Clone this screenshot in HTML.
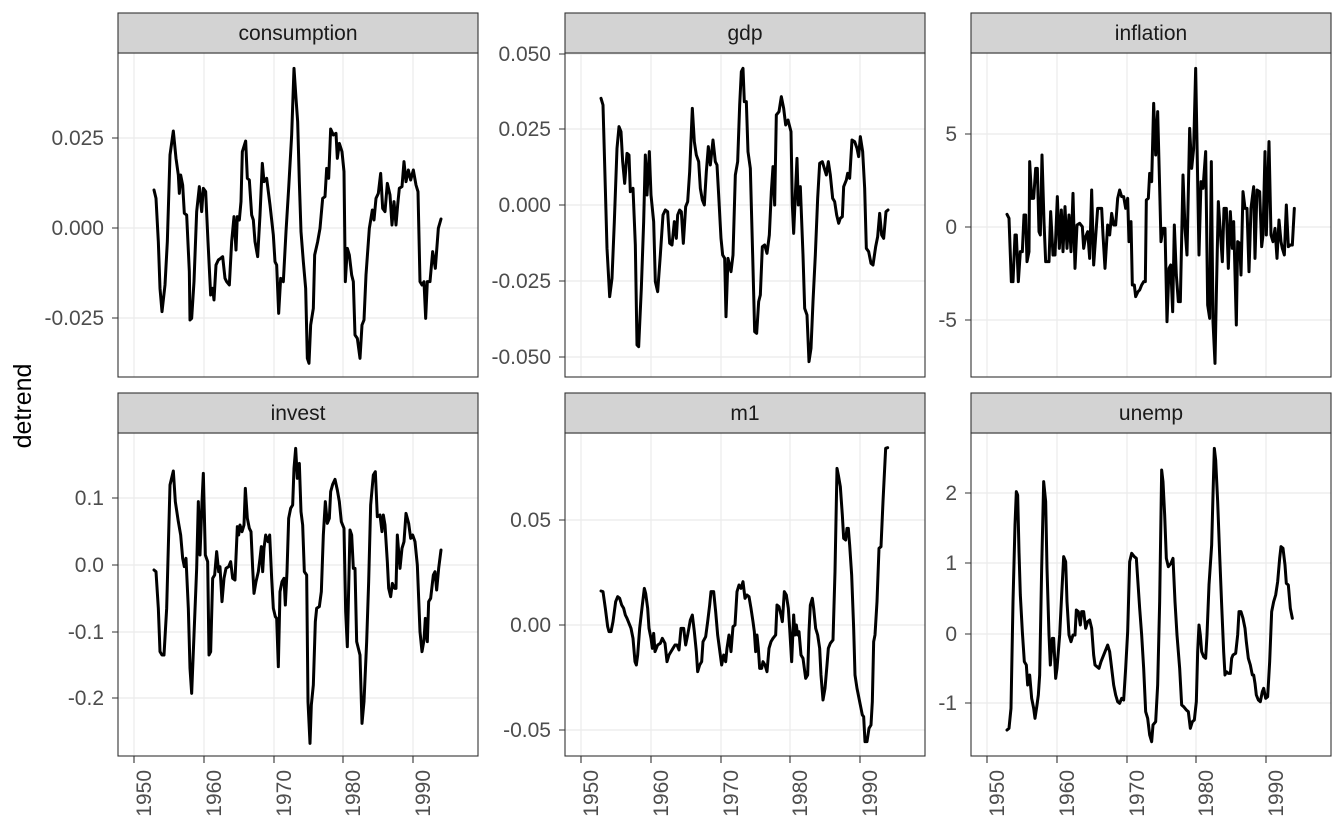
<!DOCTYPE html>
<html><head><meta charset="utf-8"><style>
html,body{margin:0;padding:0;background:#fff;}
svg{display:block;font-family:"Liberation Sans",sans-serif;}
.g{stroke:#ebebeb;stroke-width:1.2;fill:none}
.fr{fill:none;stroke:#333;stroke-width:1.1}
.st{fill:#d3d3d3;stroke:#333;stroke-width:1.1}
.sl{font-size:21px;fill:#1a1a1a;text-anchor:middle}
.yl{font-size:21px;fill:#4d4d4d;text-anchor:end}
.xl{font-size:21px;fill:#4d4d4d;text-anchor:end}
.tk{stroke:#333;stroke-width:1.1}
.ln{fill:none;stroke:#000;stroke-width:9;stroke-linejoin:round;stroke-linecap:round}
</style></head><body>
<svg width="1344" height="830" viewBox="0 0 1344 830" xmlns="http://www.w3.org/2000/svg">
<rect width="1344" height="830" fill="#fff"/>
<text x="0" y="0" transform="translate(31,406) rotate(-90)" style="font-size:25px;fill:#000;text-anchor:middle">detrend</text>

<!-- ===== consumption ===== -->
<g>
<path class="g" d="M134,53V377M204,53V377M274,53V377M343,53V377M413,53V377M118,138H478M118,228H478M118,318H478"/>
<rect class="fr" x="118" y="53" width="360" height="324"/>
<rect class="st" x="118" y="13" width="360" height="40"/>
<text class="sl" x="298" y="40">consumption</text>
<path class="tk" d="M112,138H118M112,228H118M112,318H118"/>
<text class="yl" x="104" y="145">0.025</text><text class="yl" x="104" y="235">0.000</text><text class="yl" x="104" y="325">-0.025</text>
<g transform="translate(140,55) scale(0.33333)"><polyline class="ln" points="42,405 48,430 55,560 60,700 66,770 75,690 82,560 90,300 100,228 108,310 115,360 118,415 122,360 128,390 133,475 140,480 148,650 150,795 155,790 162,680 170,470 178,395 185,470 190,400 197,410 204,560 212,720 218,700 222,735 228,630 235,615 242,610 248,605 255,670 260,680 268,690 275,560 282,485 288,585 292,485 298,495 303,440 307,290 317,258 322,370 328,375 335,480 340,495 345,560 353,605 360,480 367,325 372,380 380,370 390,450 400,540 405,620 410,630 416,775 422,670 430,680 438,530 446,400 455,240 462,40 468,130 473,200 478,380 483,530 490,620 497,700 502,910 507,925 512,810 520,760 524,600 533,560 540,520 548,430 555,425 560,340 566,370 572,222 580,240 588,235 592,310 598,265 606,290 612,350 616,680 622,580 628,600 635,660 640,680 645,840 652,850 660,910 666,810 672,795 678,660 688,520 697,465 702,495 708,430 715,415 722,355 728,460 735,470 742,385 750,420 756,510 762,440 768,510 773,450 778,400 786,395 792,320 798,380 805,345 812,375 820,345 828,390 834,410 840,680 846,690 852,680 857,790 862,680 870,680 878,590 886,640 895,520 903,492"/></g>
</g>

<!-- ===== gdp ===== -->
<g>
<path class="g" d="M581,53V377M651,53V377M721,53V377M790,53V377M860,53V377M565,54H925M565,129H925M565,205H925M565,281H925M565,357H925"/>
<rect class="fr" x="565" y="53" width="360" height="324"/>
<rect class="st" x="565" y="13" width="360" height="40"/>
<text class="sl" x="745" y="40">gdp</text>
<path class="tk" d="M559,54H565M559,129H565M559,205H565M559,281H565M559,357H565"/>
<text class="yl" x="551" y="61">0.050</text><text class="yl" x="551" y="136">0.025</text><text class="yl" x="551" y="212">0.000</text><text class="yl" x="551" y="288">-0.025</text><text class="yl" x="551" y="364">-0.050</text>
<g transform="translate(587,55) scale(0.33333)"><polyline class="ln" points="42,130 48,150 55,400 60,580 68,725 75,670 82,500 90,280 96,215 102,230 107,320 113,385 120,295 126,300 130,410 138,400 145,570 150,870 155,875 163,700 170,500 175,300 180,420 187,290 192,420 200,500 205,680 212,710 220,600 228,480 235,465 242,470 248,565 255,570 262,500 268,550 272,480 278,465 283,470 289,565 296,455 302,440 308,350 316,160 322,260 328,300 335,320 340,400 346,435 352,450 358,350 364,275 370,330 378,255 385,320 390,330 395,420 402,550 407,600 413,610 417,785 423,610 432,650 438,600 445,360 452,320 458,150 463,50 468,40 472,140 478,140 483,290 490,340 497,600 503,830 509,835 515,740 520,720 526,575 533,570 540,595 547,540 553,410 558,335 563,450 568,180 576,170 583,125 590,160 596,210 603,195 612,230 616,450 620,535 625,420 630,310 634,450 640,395 648,600 653,760 660,780 666,920 672,880 678,740 685,600 692,430 698,325 706,320 712,340 718,360 724,320 730,360 737,430 743,440 749,480 755,505 760,490 766,485 770,395 778,375 782,355 788,370 795,255 803,260 810,280 815,305 820,245 827,290 833,400 838,580 845,590 852,625 858,630 866,575 872,545 878,475 884,540 890,550 897,470 903,465"/></g>
</g>

<!-- ===== inflation ===== -->
<g>
<path class="g" d="M987,53V377M1057,53V377M1127,53V377M1196,53V377M1266,53V377M971,134H1331M971,227H1331M971,320H1331"/>
<rect class="fr" x="971" y="53" width="360" height="324"/>
<rect class="st" x="971" y="13" width="360" height="40"/>
<text class="sl" x="1151" y="40">inflation</text>
<path class="tk" d="M965,134H971M965,227H971M965,320H971"/>
<text class="yl" x="957" y="141">5</text><text class="yl" x="957" y="234">0</text><text class="yl" x="957" y="327">-5</text>
<g transform="translate(993,55) scale(0.33333)"><polyline class="ln" points="42,478 48,490 55,680 60,680 66,540 70,540 76,680 82,590 88,590 93,480 98,480 102,620 108,590 110,320 116,430 122,430 128,340 133,340 138,530 142,540 147,300 153,500 158,620 163,620 168,620 173,470 180,600 186,600 193,425 199,580 205,465 210,590 216,455 222,580 228,480 234,590 240,415 246,640 252,510 260,505 268,515 272,580 278,545 284,530 290,610 296,405 302,630 308,545 314,460 320,460 326,460 330,540 336,640 344,510 350,540 356,475 362,510 368,510 374,430 380,405 386,425 392,425 398,460 404,430 408,560 414,500 418,690 424,690 428,725 435,710 440,705 446,690 452,680 457,680 460,435 466,430 470,355 476,380 482,145 488,300 494,170 499,360 504,560 510,520 516,520 522,800 528,640 533,630 539,770 544,510 550,660 556,740 562,740 570,360 576,520 582,600 590,220 596,340 602,280 608,40 613,320 618,600 624,380 630,400 638,290 644,750 650,790 655,320 660,800 666,925 670,720 676,440 682,530 688,620 693,460 700,460 706,640 712,470 718,580 722,500 730,810 734,560 740,565 744,660 750,410 756,460 762,460 768,650 774,460 782,395 786,610 792,405 800,410 806,575 810,540 816,290 820,540 828,260 834,540 840,560 846,520 852,610 858,495 864,560 868,580 874,600 880,450 886,575 892,570 898,570 904,460"/></g>
</g>

<!-- ===== invest ===== -->
<g>
<path class="g" d="M134,433V756M204,433V756M274,433V756M343,433V756M413,433V756M118,498H478M118,565H478M118,632H478M118,698H478"/>
<rect class="fr" x="118" y="433" width="360" height="323"/>
<rect class="st" x="118" y="393" width="360" height="40"/>
<text class="sl" x="298" y="420">invest</text>
<path class="tk" d="M112,498H118M112,565H118M112,632H118M112,698H118"/>
<text class="yl" x="104" y="505">0.1</text><text class="yl" x="104" y="572">0.0</text><text class="yl" x="104" y="639">-0.1</text><text class="yl" x="104" y="705">-0.2</text>
<g transform="translate(140,435) scale(0.33333)"><polyline class="ln" points="42,405 48,410 55,520 60,650 66,660 72,660 80,520 90,150 100,108 106,200 115,260 122,300 128,370 133,395 138,370 145,520 150,700 155,775 162,600 170,400 175,200 180,360 186,200 190,115 196,360 203,380 207,660 212,650 218,430 224,420 230,350 236,410 240,395 246,500 252,430 258,400 266,395 272,380 278,430 285,435 292,275 296,300 300,270 306,290 312,270 316,160 322,250 328,280 333,290 338,400 342,475 348,440 355,410 360,370 364,335 368,410 372,340 377,300 384,320 389,300 395,430 400,520 406,545 410,550 415,695 420,470 426,440 432,430 436,510 441,410 446,250 452,220 458,210 462,100 467,40 472,130 478,85 483,230 488,270 493,410 500,420 504,800 510,925 514,810 520,750 526,560 530,520 538,515 544,470 550,300 556,200 562,265 568,250 572,170 578,148 585,133 592,165 598,200 604,260 612,280 617,530 622,635 626,460 630,285 635,300 640,400 645,400 650,620 660,660 666,865 672,800 680,620 686,440 692,210 700,120 706,110 712,245 720,240 726,290 730,240 735,270 742,380 746,460 752,485 757,445 764,460 768,460 772,300 780,400 786,340 792,320 798,235 806,265 812,310 818,300 825,320 832,390 840,590 846,650 852,615 856,550 862,620 866,500 872,490 880,420 885,410 890,465 896,400 903,345"/></g>
<path class="tk" d="M134,756V763M204,756V763M274,756V763M343,756V763M413,756V763"/>
<text class="xl" transform="translate(151,770) rotate(-90)">1950</text><text class="xl" transform="translate(221,770) rotate(-90)">1960</text><text class="xl" transform="translate(291,770) rotate(-90)">1970</text><text class="xl" transform="translate(360,770) rotate(-90)">1980</text><text class="xl" transform="translate(430,770) rotate(-90)">1990</text>
</g>

<!-- ===== m1 ===== -->
<g>
<path class="g" d="M581,433V756M651,433V756M721,433V756M790,433V756M860,433V756M565,520H925M565,625H925M565,730H925"/>
<rect class="fr" x="565" y="433" width="360" height="323"/>
<rect class="st" x="565" y="393" width="360" height="40"/>
<text class="sl" x="745" y="420">m1</text>
<path class="tk" d="M559,520H565M559,625H565M559,730H565"/>
<text class="yl" x="551" y="527">0.05</text><text class="yl" x="551" y="632">0.00</text><text class="yl" x="551" y="737">-0.05</text>
<g transform="translate(587,435) scale(0.33333)"><polyline class="ln" points="42,468 48,470 55,520 62,575 66,590 72,590 78,560 86,500 92,485 98,490 104,510 110,520 115,540 120,550 126,565 132,580 138,610 144,680 148,690 152,660 158,580 166,510 172,460 176,475 182,520 186,580 192,610 196,640 200,595 204,650 208,640 212,630 220,625 226,610 234,625 240,680 246,660 252,650 258,640 264,630 270,630 276,645 282,580 290,580 296,630 302,600 310,555 316,540 322,590 328,650 332,710 338,690 344,680 348,620 356,605 362,560 368,510 372,470 380,470 386,530 392,600 400,660 404,690 410,660 416,680 420,640 426,600 432,650 438,575 444,570 450,470 456,450 462,460 468,440 474,490 480,480 486,485 492,520 498,560 502,590 506,650 510,600 514,640 518,700 524,700 528,680 534,690 540,710 546,640 552,620 558,610 566,600 570,510 576,515 582,540 586,560 592,470 598,480 604,520 608,580 614,680 620,540 624,600 628,570 632,600 636,590 642,660 648,670 656,730 662,720 666,590 670,510 676,490 680,520 686,580 692,600 698,640 702,720 708,795 714,760 720,690 724,640 730,625 738,615 744,410 750,100 754,120 760,155 766,240 770,310 776,315 780,280 784,280 788,330 794,420 800,580 804,720 810,760 816,790 820,810 826,840 830,845 834,920 840,920 846,880 852,870 856,800 860,620 864,600 870,500 876,340 882,335 888,200 896,40 902,38"/></g>
<path class="tk" d="M581,756V763M651,756V763M721,756V763M790,756V763M860,756V763"/>
<text class="xl" transform="translate(598,770) rotate(-90)">1950</text><text class="xl" transform="translate(668,770) rotate(-90)">1960</text><text class="xl" transform="translate(738,770) rotate(-90)">1970</text><text class="xl" transform="translate(807,770) rotate(-90)">1980</text><text class="xl" transform="translate(877,770) rotate(-90)">1990</text>
</g>

<!-- ===== unemp ===== -->
<g>
<path class="g" d="M987,433V756M1057,433V756M1127,433V756M1196,433V756M1266,433V756M971,493H1331M971,563H1331M971,634H1331M971,703H1331"/>
<rect class="fr" x="971" y="433" width="360" height="323"/>
<rect class="st" x="971" y="393" width="360" height="40"/>
<text class="sl" x="1151" y="420">unemp</text>
<path class="tk" d="M965,493H971M965,563H971M965,634H971M965,703H971"/>
<text class="yl" x="957" y="500">2</text><text class="yl" x="957" y="570">1</text><text class="yl" x="957" y="641">0</text><text class="yl" x="957" y="710">-1</text>
<g transform="translate(993,435) scale(0.33333)"><polyline class="ln" points="42,885 48,880 54,820 60,500 66,270 70,170 74,180 78,350 82,480 88,590 94,680 100,690 104,750 110,720 116,790 122,820 126,850 132,810 136,780 140,720 146,400 152,140 158,200 162,400 168,600 172,690 178,610 182,610 188,730 192,700 200,600 206,480 212,365 218,380 222,500 228,600 234,620 240,600 246,600 250,525 256,530 262,570 266,530 272,530 278,580 284,560 290,555 296,580 302,660 306,690 312,695 318,700 324,680 330,665 336,650 344,630 350,650 356,700 362,750 368,780 374,800 380,805 386,790 392,795 398,700 404,590 410,380 416,355 424,365 430,370 436,460 440,520 446,600 452,700 458,830 464,850 470,900 476,920 480,870 488,860 494,750 500,500 506,105 510,140 515,240 520,370 526,395 534,385 540,370 546,500 552,600 560,700 566,810 572,815 580,825 586,830 592,880 598,860 604,855 610,800 614,650 618,570 622,600 626,650 632,665 638,670 642,600 648,450 656,330 660,180 664,40 668,75 674,200 680,360 686,510 692,650 696,720 700,710 706,715 712,715 716,670 720,660 728,655 734,600 738,530 744,530 750,550 756,580 760,620 766,670 772,690 778,720 782,720 786,745 790,780 796,795 802,800 808,770 812,760 818,790 824,785 830,680 836,530 842,500 848,480 854,440 860,370 864,335 870,340 876,390 880,445 886,450 892,520 898,550"/></g>
<path class="tk" d="M987,756V763M1057,756V763M1127,756V763M1196,756V763M1266,756V763"/>
<text class="xl" transform="translate(1004,770) rotate(-90)">1950</text><text class="xl" transform="translate(1074,770) rotate(-90)">1960</text><text class="xl" transform="translate(1144,770) rotate(-90)">1970</text><text class="xl" transform="translate(1213,770) rotate(-90)">1980</text><text class="xl" transform="translate(1283,770) rotate(-90)">1990</text>
</g>
</svg>
</body></html>
